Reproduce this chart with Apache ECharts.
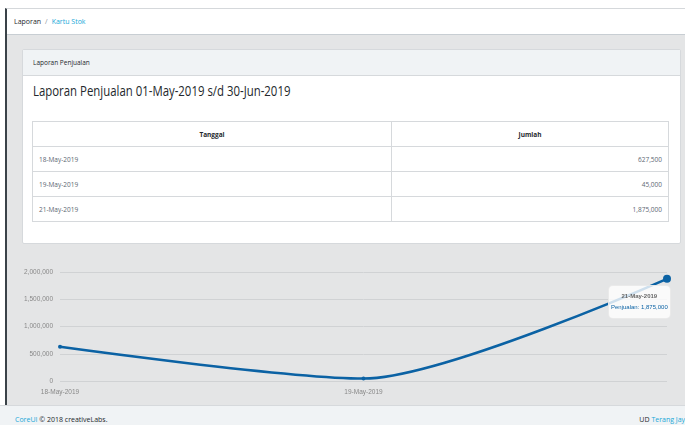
<!DOCTYPE html>
<html>
<head>
<meta charset="utf-8">
<script src="https://cdn.jsdelivr.net/npm/echarts@6/dist/echarts.min.js"></script>
<style>
  html, body { margin: 0; padding: 0; width: 685px; height: 425px; overflow: hidden; background: #fff; font-family: "Open Sans", sans-serif; }
  .app { position: absolute; left: 5px; top: 8px; right: 0; bottom: 0; border-left: 2px solid #3a4248; border-top: 1px solid #d5d8db; background: #e4e5e6; }
  .crumb { position: absolute; left: 0; top: 0; right: 0; height: 25px; background: #fff; border-bottom: 1px solid #c8ced3; font-size: 7px; line-height: 25px; padding-left: 7px; color: #23282c; }
  .crumb .sep { color: #8a9299; margin: 0 4px; }
  .crumb a { color: #20a8d8; text-decoration: none; }
  .card { position: absolute; left: 15px; top: 40px; width: 657px; height: 193px; background: #fff; border: 1px solid #d6d9dc; border-radius: 2px; }
  .card-h { height: 25px; background: #f0f3f5; border-bottom: 1px solid #d6d9dc; font-size: 6.5px; line-height: 25px; padding-left: 10px; color: #23282c; }
  .title { position: absolute; left: 10px; top: 30px; font-size: 15px; color: #23282c; white-space: nowrap; transform: scaleX(0.76); transform-origin: 0 0; }
  table { position: absolute; left: 9px; top: 71px; width: 637px; border-collapse: collapse; font-size: 6.5px; color: #5c6873; table-layout: fixed; }
  td, th { border: 1px solid #d6d9dc; height: 24px; padding: 0 6px; }
  th { font-weight: 700; color: #23282c; text-align: center; }
  th.c1 { width: 346px; }
  td.num { text-align: right; }
  #chart { position: absolute; left: 0; top: 250px; width: 685px; height: 155px; }
  .foot { position: absolute; left: 0; top: 405px; width: 685px; height: 20px; background: #f0f3f5; border-top: 1px solid #d6d9dc; font-size: 7px; color: #23282c; }
  .foot .l { position: absolute; left: 15px; top: 9px; }
  .foot .r { position: absolute; right: -4px; top: 9px; white-space: nowrap; }
  .foot a { color: #20a8d8; text-decoration: none; }
</style>
</head>
<body>
<div class="app">
  <div class="crumb">Laporan<span class="sep">/</span><a>Kartu Stok</a></div>
  <div class="card">
    <div class="card-h">Laporan Penjualan</div>
    <div class="title">Laporan Penjualan 01-May-2019 s/d 30-Jun-2019</div>
    <table id="tbl">
      <thead><tr><th class="c1">Tanggal</th><th>Jumlah</th></tr></thead>
      <tbody></tbody>
    </table>
  </div>
</div>
<div id="chart"></div>
<div class="foot">
  <span class="l"><a>CoreUI</a> © 2018 creativeLabs.</span>
  <span class="r">UD <a>Terang Jaya</a></span>
</div>
<script>
// data penjualan per tanggal
const tanggal = ['18-May-2019', '19-May-2019', '21-May-2019'];
const penjualan = [627500, 45000, 1875000];
const yTicks = [0, 500000, 1000000, 1500000, 2000000];

const fmt = v => v.toLocaleString('en-US');

// isi tabel
const tbody = document.querySelector('#tbl tbody');
tanggal.forEach((t, i) => {
    const tr = document.createElement('tr');
    tr.innerHTML = '<td>' + t + '</td><td class="num">' + fmt(penjualan[i]) + '</td>';
    tbody.appendChild(tr);
});

const chart = echarts.init(document.getElementById('chart'));
const lastIdx = penjualan.length - 1;
const option = {
    animation: false,
    grid: { left: 60, right: 18, top: 22, bottom: 24 },
    tooltip: {
        trigger: 'item',
        alwaysShowContent: true,
        showDelay: 0,
        transitionDuration: 0,
        position: [608, 35],
        backgroundColor: 'rgba(255,255,255,0.8)',
        borderColor: 'rgba(230,230,230,0.8)',
        borderWidth: 1,
        borderRadius: 5,
        padding: [5, 2],
        extraCssText: 'box-shadow:none;text-align:center;',
        formatter: p => '<div style="font:bold 6px \'Liberation Sans\';color:#666;line-height:11px">' + p.name +
            '</div><div style="font:6px \'Liberation Sans\';color:#0b62a4;line-height:11px">Penjualan: ' + fmt(p.value) + '</div>'
    },
    xAxis: {
        type: 'category',
        data: tanggal,
        boundaryGap: false,
        axisLine: { show: false },
        axisTick: { show: false },
        axisLabel: {
            color: '#888', fontSize: 6.5, fontFamily: 'Liberation Sans', margin: 8,
            interval: (i) => i < lastIdx
        }
    },
    yAxis: {
        type: 'value',
        min: yTicks[0],
        max: yTicks[yTicks.length - 1],
        interval: 500000,
        axisLine: { show: false },
        axisTick: { show: false },
        axisLabel: { color: '#888', fontSize: 6.5, fontFamily: 'Liberation Sans', margin: 7, formatter: v => fmt(v) },
        splitLine: { lineStyle: { color: '#d0d2d4', width: 1 } }
    },
    series: [{
        name: 'Penjualan',
        type: 'line',
        data: penjualan,
        smooth: 0.25,
        symbol: 'circle',
        symbolSize: (v, p) => p.dataIndex === lastIdx ? 8 : 4,
        lineStyle: { color: '#0b62a4', width: 2.5 },
        itemStyle: { color: '#0b62a4' },
        emphasis: { disabled: true }
    }]
};
chart.setOption(option);
chart.dispatchAction({ type: 'showTip', seriesIndex: 0, dataIndex: lastIdx });
</script>
</body>
</html>
